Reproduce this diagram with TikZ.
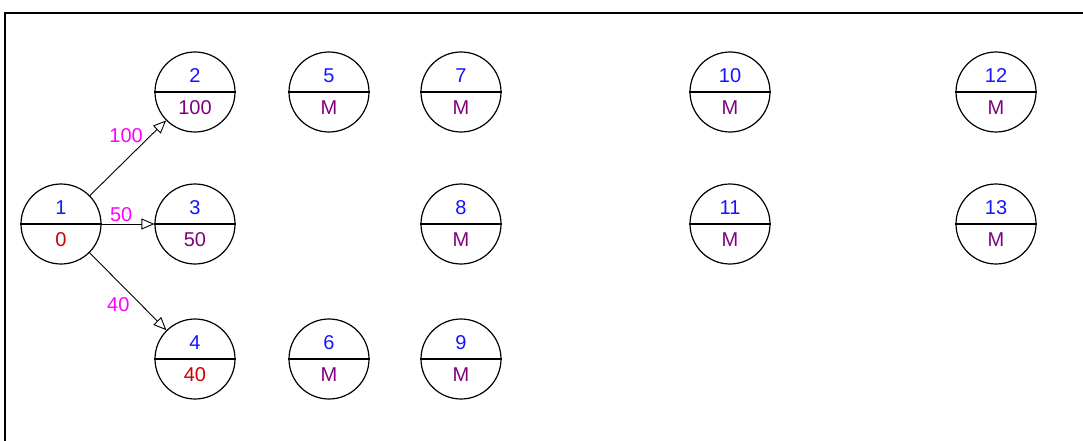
\documentclass[tikz,border=0pt]{standalone}
\usepackage{fontspec}
\setmainfont{Liberation Sans}
\usepackage{tikz}
\usetikzlibrary{arrows.meta, positioning}
\definecolor{numblue}{RGB}{20, 20, 255}
\definecolor{valpurple}{RGB}{128, 0, 128}
\definecolor{critred}{RGB}{205, 0, 0}
\definecolor{wtmagenta}{RGB}{255, 0, 255}

\begin{document}
\begin{tikzpicture}[x=1pt, y=-1pt,
  ev/.style={draw, circle, minimum size=80pt, inner sep=0pt, line width=1.2pt},
  num/.style={text=numblue, font=\fontsize{20}{20}\selectfont, inner sep=0pt},
  val/.style={font=\fontsize{20}{20}\selectfont, inner sep=0pt},
  wt/.style={text=wtmagenta, font=\fontsize{20}{20}\selectfont},
  arr/.style={-{Triangle[open, length=13pt, width=11pt]}, line width=0.9pt}
]
  \useasboundingbox (0,0) rectangle (1083,441);
  % frame
  \draw[line width=2pt] (5,441) -- (5,13) -- (1083,13);

  % events: number/x/y/value/colour
  \foreach \n/\x/\y/\v/\c in {
      1/61/224/0/critred, 2/195/92/100/valpurple, 3/195/224/50/valpurple,
      4/195/359/40/critred, 5/329/92/M/valpurple, 6/329/359/M/valpurple,
      7/461/92/M/valpurple, 8/461/224/M/valpurple, 9/461/359/M/valpurple,
      10/730/92/M/valpurple, 11/730/224/M/valpurple,
      12/996/92/M/valpurple, 13/996/224/M/valpurple} {
    \node[ev] (n\n) at (\x,\y) {};
    \draw[line width=1.8pt] (n\n.west) -- (n\n.east);
    \node[num] (t\n) at (\x,\y-16) {\n};
    \node[val, text=\c] (v\n) at (\x,\y+16) {\v};
  }

  % activities
  \draw[arr] (n1) -- node[wt, pos=0.7, above left, inner sep=0pt] {100} (n2);
  \draw[arr] (n1) -- node[wt, pos=0.37, above, inner sep=1.5pt] {50} (n3);
  \draw[arr] (n1) -- node[wt, pos=0.55, below left, inner sep=2pt] {40} (n4);
\end{tikzpicture}
\end{document}
